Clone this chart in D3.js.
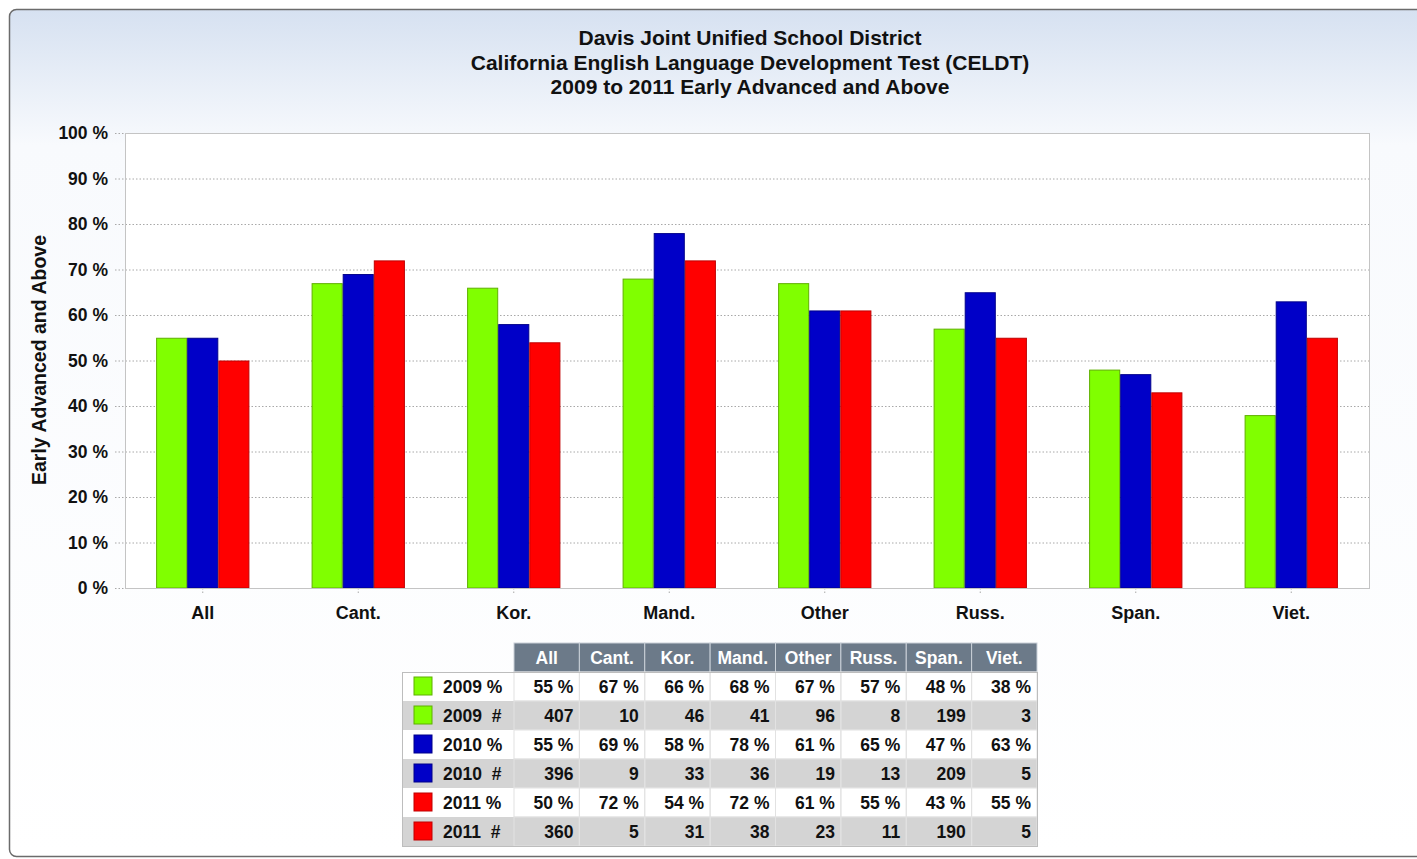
<!DOCTYPE html>
<html>
<head>
<meta charset="utf-8">
<script src="https://cdn.jsdelivr.net/npm/d3@7"></script>
<style>
  body { margin: 0; background: #fff; }
  svg { display: block; font-family: "Liberation Sans", Arial, sans-serif; }
</style>
</head>
<body>
<div id="chart"></div>
<script>
// Data
const categories = ["All", "Cant.", "Kor.", "Mand.", "Other", "Russ.", "Span.", "Viet."];
const years = ["2009", "2010", "2011"];
const pct2009 = [55, 67, 66, 68, 67, 57, 48, 38];
const pct2010 = [55, 69, 58, 78, 61, 65, 47, 63];
const pct2011 = [50, 72, 54, 72, 61, 55, 43, 55];
const num2009 = [407, 10, 46, 41, 96, 8, 199, 3];
const num2010 = [396, 9, 33, 36, 19, 13, 209, 5];
const num2011 = [360, 5, 31, 38, 23, 11, 190, 5];
const yTicks = [0, 10, 20, 30, 40, 50, 60, 70, 80, 90, 100];
const titleLines = [
    "Davis Joint Unified School District",
    "California English Language Development Test (CELDT)",
    "2009 to 2011 Early Advanced and Above"
];

const pctByYear = { "2009": pct2009, "2010": pct2010, "2011": pct2011 };
const numByYear = { "2009": num2009, "2010": num2010, "2011": num2011 };

// Set up dimensions
const width = 1417;
const height = 859;
const marginLeft = 125;
const marginRight = 48;
const marginTop = 133;
const plotBottom = 588;

const svg = d3.create("svg")
    .attr("width", width)
    .attr("height", height)
    .attr("viewBox", [0, 0, width, height]);

// Background gradient + frame
const grad = svg.append("defs").append("linearGradient")
    .attr("id", "bg").attr("x1", 0).attr("y1", 0).attr("x2", 0).attr("y2", 1);
grad.append("stop").attr("offset", "0%").attr("stop-color", "#d6e1f1");
grad.append("stop").attr("offset", "16%").attr("stop-color", "#f8fafd");
grad.append("stop").attr("offset", "100%").attr("stop-color", "#ffffff");

svg.append("rect")
    .attr("x", 9.5).attr("y", 9.5)
    .attr("width", 1430).attr("height", 847)
    .attr("rx", 7)
    .attr("fill", "url(#bg)")
    .attr("stroke", "#6b6b6b")
    .attr("stroke-width", 1.5);

// Title
svg.append("g").selectAll("text")
    .data(titleLines)
    .join("text")
    .attr("x", 750)
    .attr("y", (d, i) => 45 + i * 24.5)
    .attr("text-anchor", "middle")
    .attr("font-size", "21px")
    .attr("font-weight", "bold")
    .attr("fill", "#111")
    .text(d => d);

// Scales
const x = d3.scaleBand()
    .domain(categories)
    .range([marginLeft, width - marginRight]);
const xInner = d3.scaleBand()
    .domain(years)
    .range([0, x.bandwidth() * 0.6]);
const y = d3.scaleLinear([0, 100], [plotBottom, marginTop]);
const color = d3.scaleOrdinal()
    .domain(years)
    .range(["#80ff00", "#0000c8", "#ff0000"]);
const edge = d3.scaleOrdinal()
    .domain(years)
    .range(["#5fb000", "#00008a", "#c00000"]);

// Plot area
svg.append("rect")
    .attr("x", marginLeft).attr("y", marginTop)
    .attr("width", width - marginRight - marginLeft)
    .attr("height", plotBottom - marginTop)
    .attr("fill", "#fff");

// Horizontal grid + y labels
svg.append("g")
    .attr("transform", `translate(${marginLeft},0)`)
    .call(d3.axisLeft(y).tickValues(yTicks)
        .tickSize(-(width - marginRight - marginLeft))
        .tickPadding(17)
        .tickFormat(d => d + " %"))
    .call(g => g.select(".domain").remove())
    .call(g => g.selectAll(".tick line")
        .attr("x1", -10)
        .attr("stroke", "#a8a8a8")
        .attr("stroke-dasharray", "1.5,2"))
    .call(g => g.selectAll(".tick text")
        .attr("font-family", "Liberation Sans, Arial, sans-serif")
        .attr("font-size", "17.5px")
        .attr("font-weight", "bold")
        .attr("fill", "#111"));

// Vertical grid + x labels
svg.append("g")
    .attr("transform", `translate(0,${plotBottom})`)
    .call(d3.axisBottom(x).tickSize(-(plotBottom - marginTop)).tickPadding(18))
    .call(g => g.select(".domain").remove())
    .call(g => g.selectAll(".tick line")
        .attr("y2", 6)
        .attr("stroke", "#a8a8a8")
        .attr("stroke-dasharray", "1.5,2"))
    .call(g => g.selectAll(".tick text")
        .attr("font-family", "Liberation Sans, Arial, sans-serif")
        .attr("font-size", "18px")
        .attr("font-weight", "bold")
        .attr("fill", "#111"));

// Bars
const groups = svg.append("g").selectAll("g")
    .data(categories)
    .join("g")
    .attr("transform", d => `translate(${x(d) + x.bandwidth() * 0.2},0)`);

groups.selectAll("rect")
    .data((c, i) => years.map(yr => ({ year: yr, value: pctByYear[yr][i] })))
    .join("rect")
    .attr("x", d => xInner(d.year) + 0.5)
    .attr("y", d => y(d.value) + 0.5)
    .attr("width", xInner.bandwidth() - 1)
    .attr("height", d => y(0) - y(d.value) - 0.5)
    .attr("fill", d => color(d.year))
    .attr("stroke", d => edge(d.year))
    .attr("stroke-width", 1);

// Plot border
svg.append("rect")
    .attr("x", marginLeft + 0.5).attr("y", marginTop + 0.5)
    .attr("width", width - marginRight - marginLeft)
    .attr("height", plotBottom - marginTop)
    .attr("fill", "none")
    .attr("stroke", "#c4c4c4");

// Y axis title
svg.append("text")
    .attr("transform", "translate(46,360) rotate(-90)")
    .attr("text-anchor", "middle")
    .attr("font-size", "19.5px")
    .attr("font-weight", "bold")
    .attr("fill", "#111")
    .text("Early Advanced and Above");

// Data table
const tableLeft = 402;
const colStart = 514;
const colEnd = 1037;
const headerTop = 643;
const headerH = 29;
const rowH = 29;

const col = d3.scaleBand().domain(categories).range([colStart, colEnd]);

const rows = [];
years.forEach(yr => {
    rows.push({ year: yr, label: yr + " %", values: pctByYear[yr].map(v => v + " %") });
    rows.push({ year: yr, label: yr + "  #", values: numByYear[yr].map(String) });
});

const table = svg.append("g");

// Header
table.selectAll(".hdr")
    .data(categories)
    .join("rect")
    .attr("class", "hdr")
    .attr("x", d => col(d))
    .attr("y", headerTop)
    .attr("width", col.bandwidth())
    .attr("height", headerH)
    .attr("fill", "#6c7a89")
    .attr("stroke", "#c9d0d8")
    .attr("stroke-width", 1);

table.selectAll(".hdrText")
    .data(categories)
    .join("text")
    .attr("class", "hdrText")
    .attr("x", d => col(d) + col.bandwidth() / 2)
    .attr("y", headerTop + headerH / 2 + 6)
    .attr("text-anchor", "middle")
    .attr("font-size", "17.5px")
    .attr("font-weight", "bold")
    .attr("fill", "#fff")
    .text(d => d);

const rowG = table.selectAll(".row")
    .data(rows)
    .join("g")
    .attr("class", "row")
    .attr("transform", (d, i) => `translate(0,${headerTop + headerH + i * rowH})`);

rowG.append("rect")
    .attr("x", tableLeft)
    .attr("width", colEnd - tableLeft)
    .attr("height", rowH)
    .attr("fill", (d, i) => i % 2 ? "#d4d4d4" : "#ffffff");

rowG.selectAll(".cell")
    .data(d => categories)
    .join("rect")
    .attr("class", "cell")
    .attr("x", c => col(c))
    .attr("width", col.bandwidth())
    .attr("height", rowH)
    .attr("fill", "none")
    .attr("stroke", "#e2e2e2");

rowG.append("rect")
    .attr("x", 414)
    .attr("y", 5)
    .attr("width", 18)
    .attr("height", 18)
    .attr("fill", d => color(d.year))
    .attr("stroke", d => edge(d.year));

rowG.append("text")
    .attr("x", 443)
    .attr("y", rowH / 2 + 6)
    .attr("font-size", "17.5px")
    .attr("font-weight", "bold")
    .attr("fill", "#111")
    .attr("xml:space", "preserve")
    .style("white-space", "pre")
    .text(d => d.label);

rowG.selectAll(".val")
    .data(d => d.values.map((v, i) => ({ cat: categories[i], v })))
    .join("text")
    .attr("class", "val")
    .attr("x", d => col(d.cat) + col.bandwidth() - 6)
    .attr("y", rowH / 2 + 6)
    .attr("text-anchor", "end")
    .attr("font-size", "17.5px")
    .attr("font-weight", "bold")
    .attr("fill", "#111")
    .text(d => d.v);

// Table outline
table.append("rect")
    .attr("x", tableLeft + 0.5)
    .attr("y", headerTop + headerH + 0.5)
    .attr("width", colEnd - tableLeft)
    .attr("height", rowH * rows.length)
    .attr("fill", "none")
    .attr("stroke", "#bdbdbd");

document.getElementById("chart").appendChild(svg.node());
</script>
</body>
</html>
